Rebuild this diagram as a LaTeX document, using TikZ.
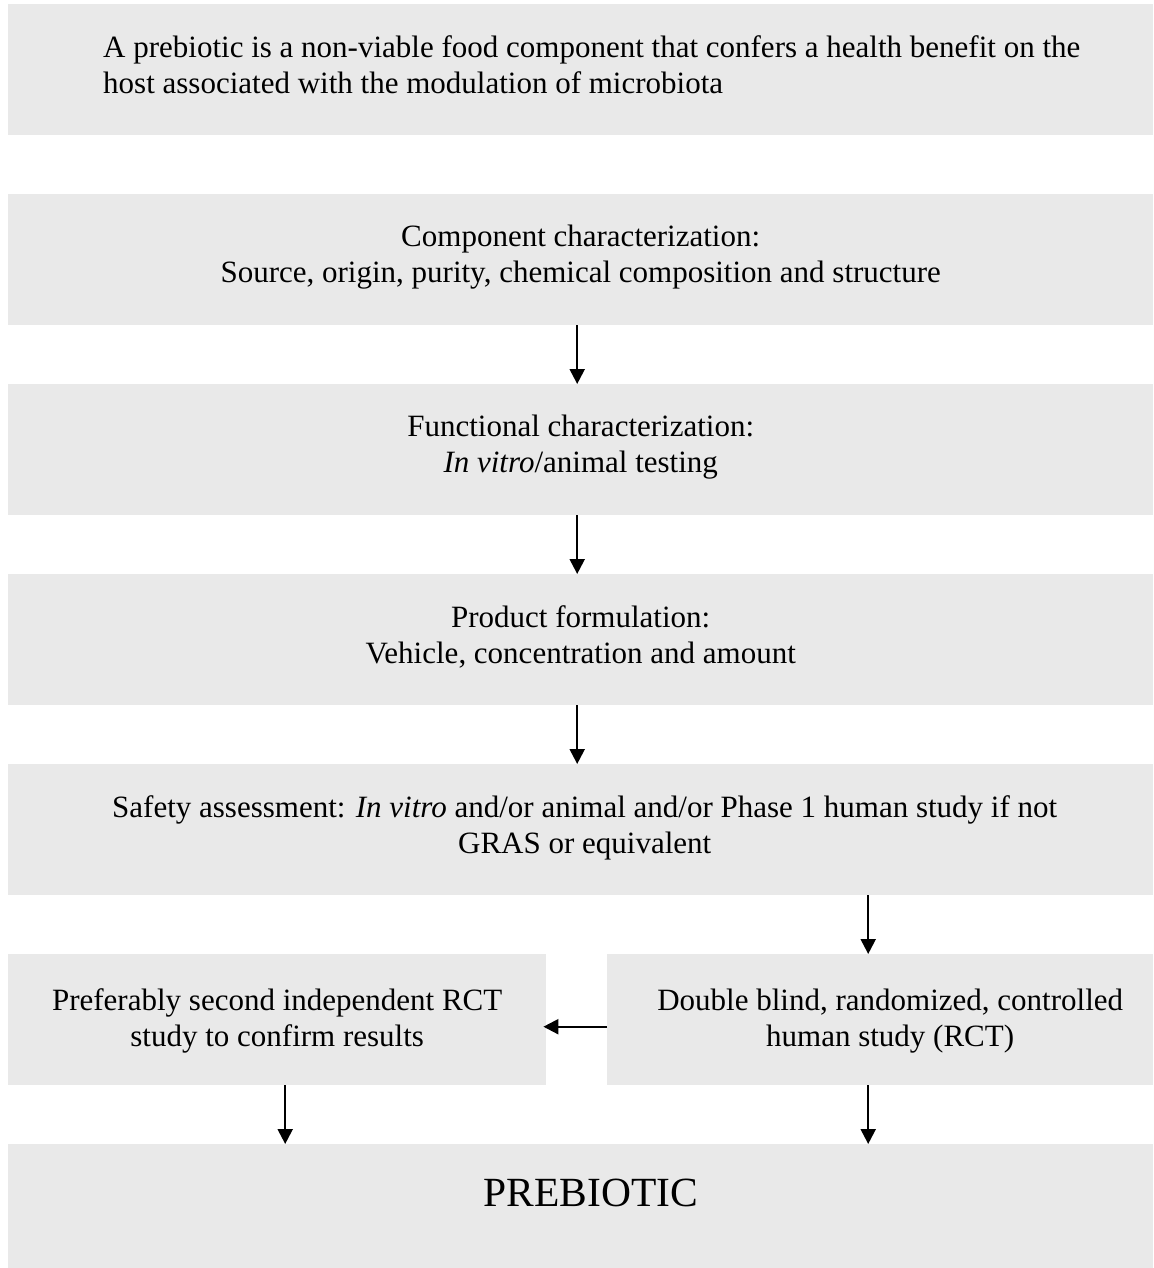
\documentclass[tikz,border=0pt]{standalone}
\usepackage{fontspec}
\setmainfont{Liberation Serif}
\usetikzlibrary{positioning,arrows.meta}
\definecolor{boxgray}{RGB}{233,233,233}

\begin{document}
\begin{tikzpicture}[x=1pt,y=-1pt,
  box/.style={fill=boxgray,anchor=north west,inner sep=0pt,minimum height=131pt},
  txt/.style={anchor=north,inner sep=0pt,align=center,font=\fontsize{31}{36}\selectfont},
  arr/.style={-{Triangle[length=15pt,width=15pt]},line width=2.2pt}]
  \useasboundingbox (0,0) rectangle (1153,1268);
  \node[box,minimum width=1145pt] (def) at (8,4) {};
  \node[box,minimum width=1145pt] (comp) at (8,194) {};
  \node[box,minimum width=1145pt] (func) at (8,384) {};
  \node[box,minimum width=1145pt] (form) at (8,574) {};
  \node[box,minimum width=1145pt] (safety) at (8,764) {};
  \node[box,minimum width=538pt] (second) at (8,954) {};
  \node[box,minimum width=546pt] (rct) at (607,954) {};
  \node[box,minimum width=1145pt,minimum height=124pt] (final) at (8,1144) {};

  \node[txt,anchor=north west,align=left] (deftxt) at ([xshift=95pt,yshift=-31pt]def.north west)
    {A prebiotic is a non-viable food component that confers a health benefit on the\\
     host associated with the modulation of microbiota};
  \node[txt] (comptxt) at ([yshift=-31pt]comp.north)
    {Component characterization:\\Source, origin, purity, chemical composition and structure};
  \node[txt] (functxt) at ([yshift=-31pt]func.north)
    {Functional characterization:\\\textit{In vitro}/animal testing};
  \node[txt] (formtxt) at ([yshift=-31pt]form.north)
    {Product formulation:\\Vehicle, concentration and amount};
  \node[txt] (safetytxt) at ([xshift=4pt,yshift=-31pt]safety.north)
    {Safety assessment: \textit{In vitro} and/or animal and/or Phase 1 human study if not\\GRAS or equivalent};
  \node[txt] (secondtxt) at ([yshift=-34.5pt]second.north)
    {Preferably second independent RCT\\study to confirm results};
  \node[txt] (rcttxt) at ([xshift=10pt,yshift=-34.5pt]rct.north)
    {Double blind, randomized, controlled\\human study (RCT)};
  \node[anchor=base,inner sep=0pt,font=\fontsize{41.5}{48}\selectfont] (finaltxt)
    at ([xshift=10pt,yshift=-62pt]final.north) {PREBIOTIC};

  \draw[arr] ([xshift=-3.5pt]comp.south) -- ([xshift=-3.5pt]func.north);
  \draw[arr] ([xshift=-3.5pt]func.south) -- ([xshift=-3.5pt]form.north);
  \draw[arr] ([xshift=-3.5pt]form.south) -- ([xshift=-3.5pt]safety.north);
  \draw[arr] ([xshift=-12pt]rct.north |- safety.south) -- ([xshift=-12pt]rct.north);
  \draw[arr] ([yshift=-7pt]rct.west) -- ([xshift=-3pt,yshift=-7pt]second.east);
  \draw[arr] ([xshift=8pt]second.south) -- ([xshift=8pt]second.south |- final.north);
  \draw[arr] ([xshift=-12pt]rct.south) -- ([xshift=-12pt]rct.south |- final.north);
\end{tikzpicture}
\end{document}
